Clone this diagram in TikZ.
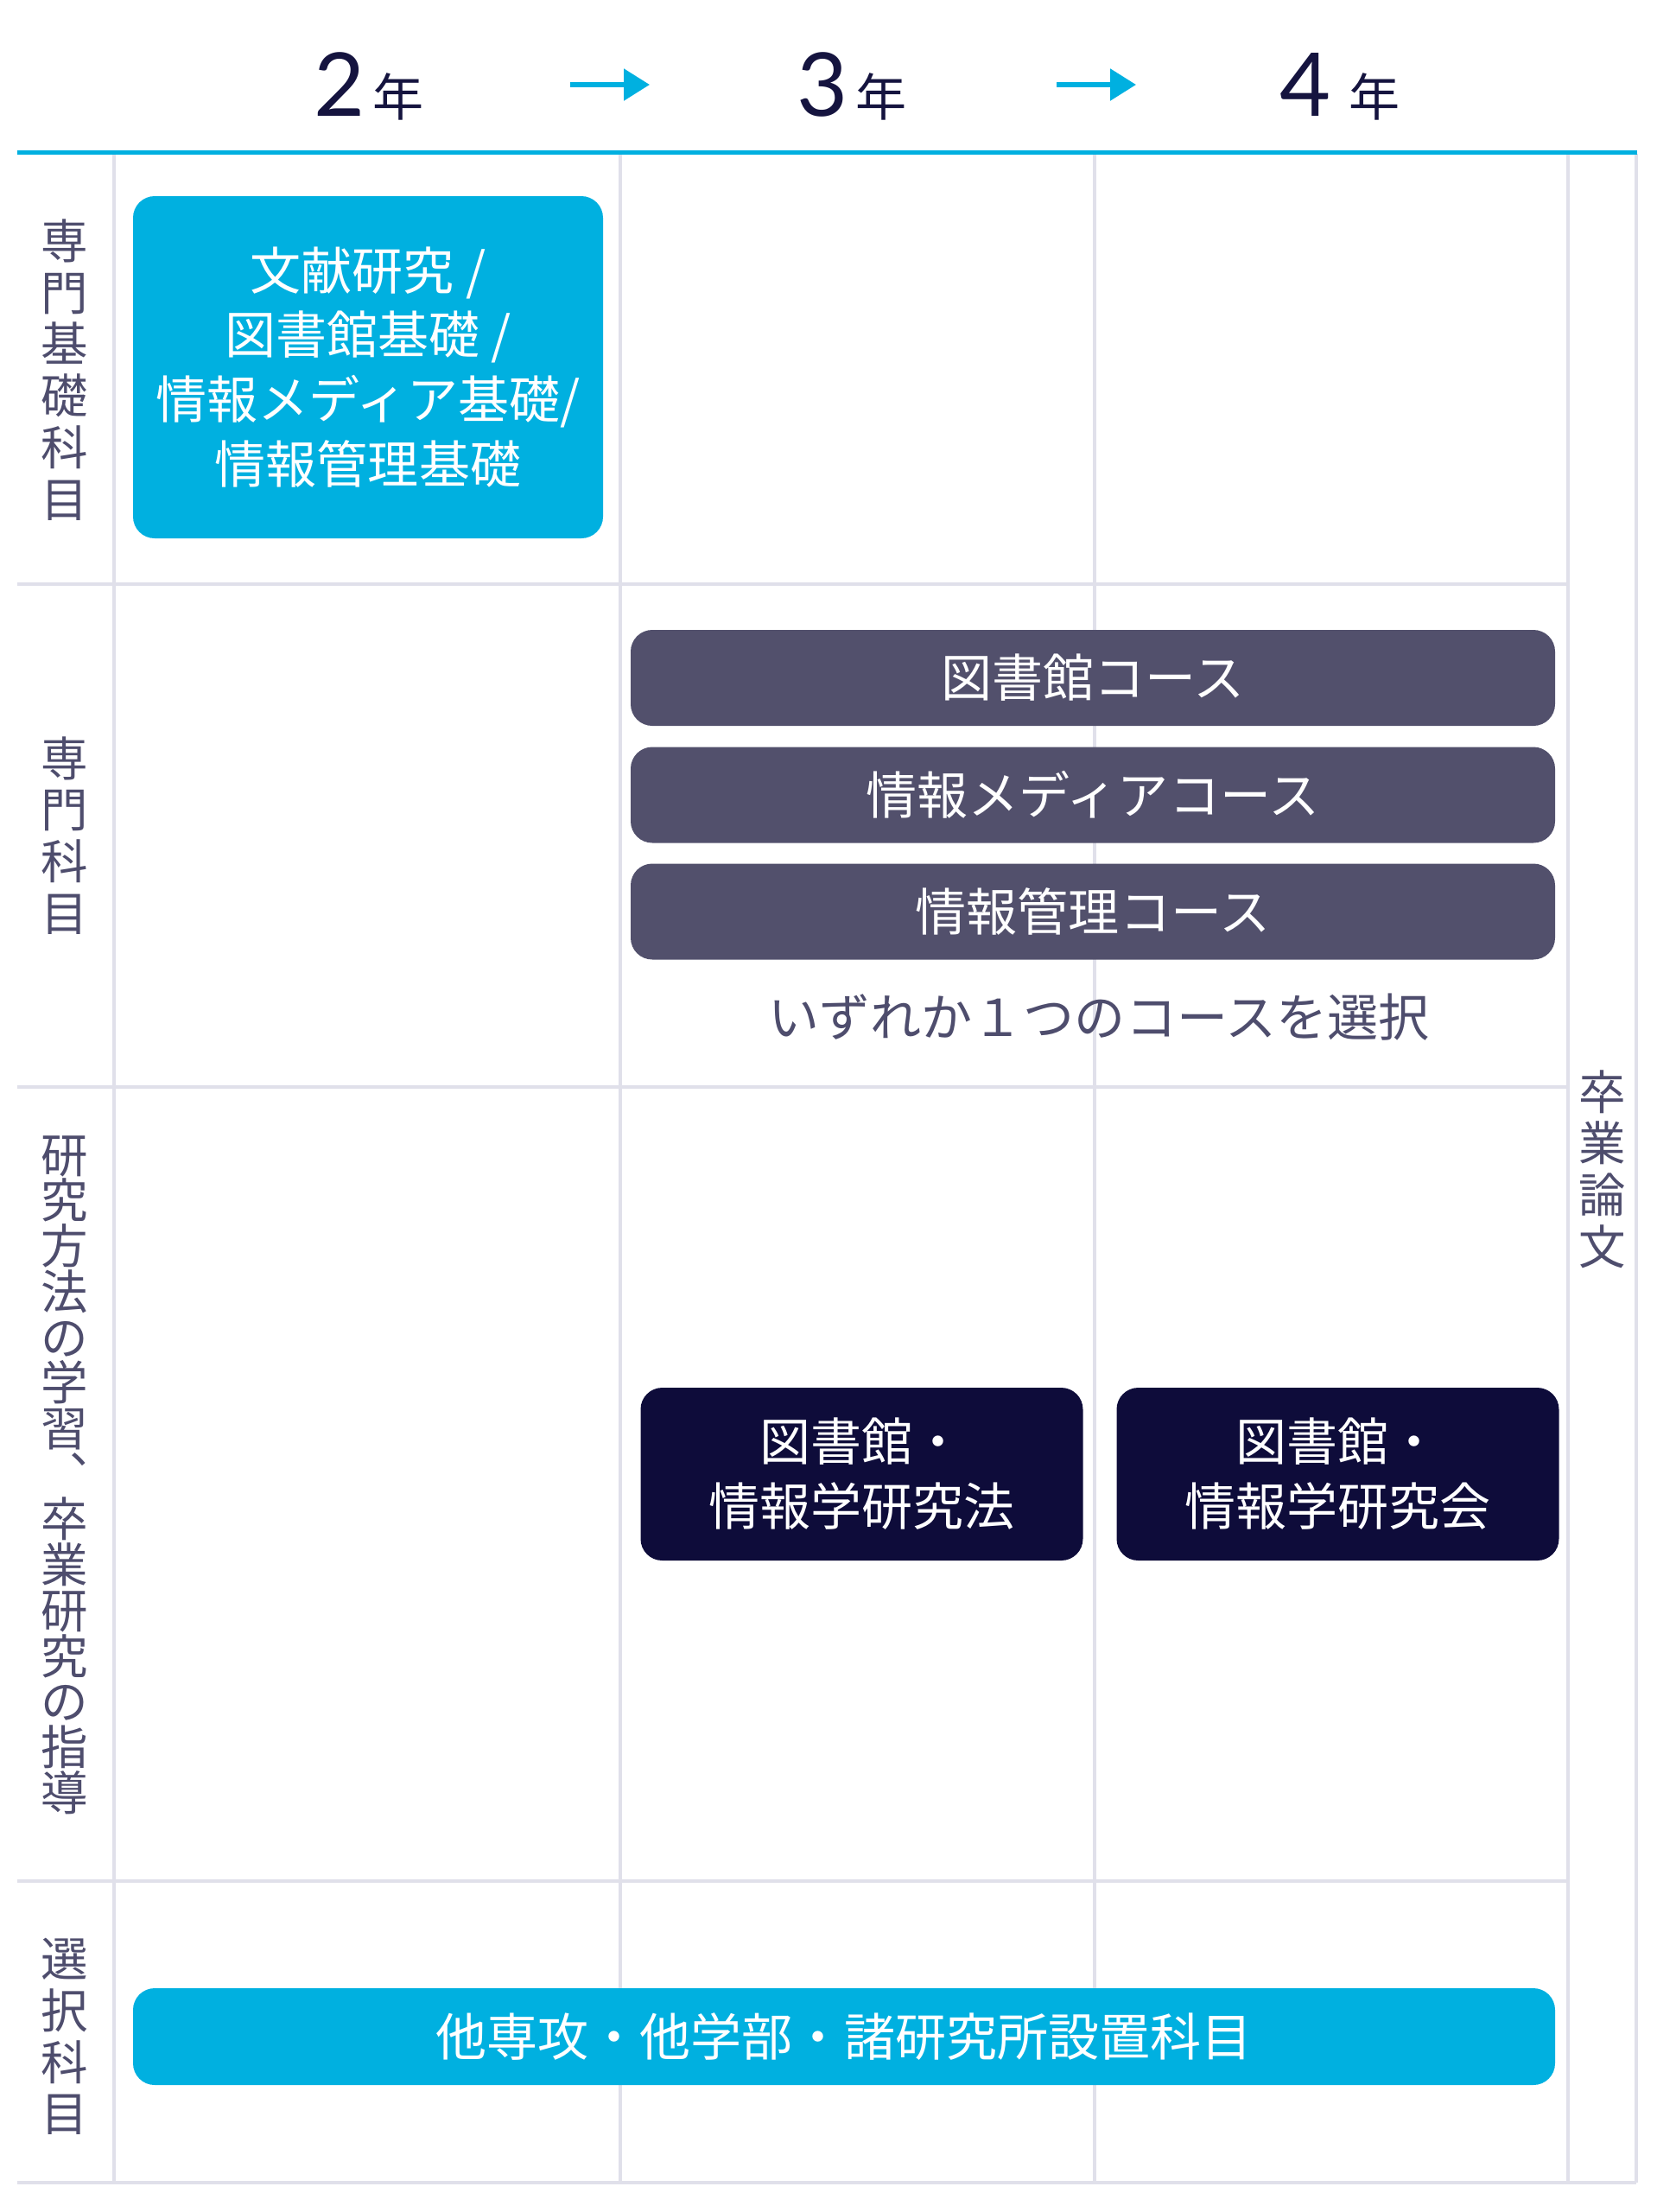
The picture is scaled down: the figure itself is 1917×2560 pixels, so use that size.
\documentclass[tikz,border=0pt]{standalone}
\usepackage{fontspec}
\setmainfont{Noto Sans CJK JP}
\newfontfamily\numfont{Lato}
\newfontfamily\vertfont{Noto Sans CJK JP}
\usepackage{tikz}
\usetikzlibrary{arrows.meta}

\definecolor{cyanbox}{HTML}{00B0E0}
\definecolor{coursebox}{HTML}{52506C}
\definecolor{navybox}{HTML}{0E0C3A}
\definecolor{gridgray}{HTML}{E0E0EA}
\definecolor{labeltext}{HTML}{4E4D6D}
\definecolor{yeartext}{HTML}{15143F}

\tikzset{
  boxtext/.style={text=white, align=center, inner sep=0pt, rounded corners=2.5mm,
                  font=\fontsize{16.8pt}{21.3pt}\selectfont},
  basicbox/.style={boxtext, fill=cyanbox},
  coursebox/.style={boxtext, fill=coursebox, minimum width=107mm, minimum height=11.1mm},
  seminarbox/.style={boxtext, fill=navybox, minimum width=51.2mm, minimum height=20mm},
  rowlabel/.style={text=labeltext, align=center, inner sep=0pt,
                   font=\vertfont\fontsize{15.5pt}{17pt}\selectfont},
  yearlabel/.style={text=yeartext, anchor=base, inner sep=0pt,
                    font=\fontsize{16.8pt}{20pt}\selectfont},
  gridrule/.style={draw=gridgray, line width=0.4mm},
  yeararrow/.style={draw=cyanbox, line width=0.55mm, -{Triangle[length=3mm,width=3.6mm]}}
}

\begin{document}
\begin{tikzpicture}[x=0.1mm, y=-0.1mm]
  \useasboundingbox (0,0) rectangle (1917,2560);

  % header
  \node[yearlabel] (y2) at (427,134)  {{\numfont\fontsize{29pt}{29pt}\selectfont 2}\,年};
  \node[yearlabel] (y3) at (986,134)  {{\numfont\fontsize{29pt}{29pt}\selectfont 3}\,年};
  \node[yearlabel] (y4) at (1551,134) {{\numfont\fontsize{29pt}{29pt}\selectfont 4}\hspace{0.35em}年};
  \coordinate (a2s) at (660,98);
  \coordinate (a2e) at (752,98);
  \coordinate (a3s) at (1223,98);
  \coordinate (a3e) at (1315,98);
  \draw[yeararrow] (a2s) -- (a2e);
  \draw[yeararrow] (a3s) -- (a3e);

  % table
  \draw[gridrule] (132,178)  -- (132,2526);
  \draw[gridrule] (718,178)  -- (718,2526);
  \draw[gridrule] (1267,178) -- (1267,2526);
  \draw[gridrule] (1815,178) -- (1815,2526);
  \draw[gridrule] (1894,178) -- (1894,2526);
  \draw[gridrule] (20,676)  -- (1815,676);
  \draw[gridrule] (20,1258) -- (1815,1258);
  \draw[gridrule] (20,2177) -- (1815,2177);
  \draw[gridrule] (20,2526) -- (1894,2526);
  \draw[draw=cyanbox, line width=0.5mm] (20,176) -- (1895,176);

  % row labels
  \node[rowlabel] (basic)   at (75,428)  {専\\門\\基\\礎\\科\\目};
  \node[rowlabel] (major)   at (75,967)  {専\\門\\科\\目};
  \node[rowlabel, font=\vertfont\fontsize{15.5pt}{15pt}\selectfont]
                  (method)  at (75,1707) {研\\究\\方\\法\\の\\学\\習\\︑\\卒\\業\\研\\究\\の\\指\\導};
  \node[rowlabel] (elective) at (75,2357) {選\\択\\科\\目};
  \node[rowlabel] (thesis)  at (1855,1353) {卒\\業\\論\\文};

  % subjects
  \node[basicbox, minimum width=54.4mm, minimum height=39.6mm] (intro) at (426,425)
       {文献研究 /\\図書館基礎 /\\情報メディア基礎/\\情報管理基礎};
  \node[coursebox] (lib)   at (1265,784.5) {図書館コース};
  \node[coursebox] (media) at (1265,920)   {情報メディアコース};
  \node[coursebox] (mgmt)  at (1265,1055)  {情報管理コース};
  \node[text=labeltext, font=\fontsize{16.8pt}{20pt}\selectfont] (choose) at (1272,1177)
       {いずれか１つのコースを選択};
  \node[seminarbox] (meth) at (997.5,1706)  {図書館・\\情報学研究法};
  \node[seminarbox] (semi) at (1548.5,1706) {図書館・\\情報学研究会};
  \node[basicbox, minimum width=164.6mm, minimum height=11.2mm] (other) at (977,2357)
       {他専攻・他学部・諸研究所設置科目};
\end{tikzpicture}
\end{document}
